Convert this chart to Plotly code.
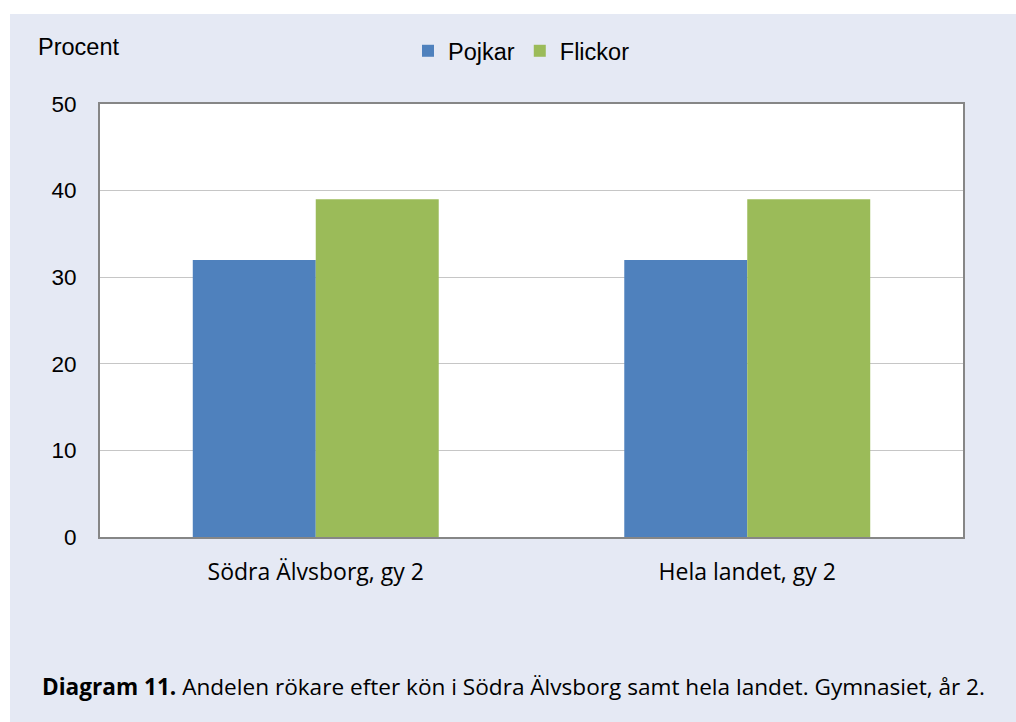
import plotly.graph_objects as go

categories = ["Södra Älvsborg, gy 2", "Hela landet, gy 2"]
pojkar = [32, 32]
flickor = [39, 39]
y_ticks = [0, 10, 20, 30, 40, 50]

W, H = 1016, 722
# plot area in page coordinates: x 100..963, y 104..537
L, R, T, B = 100, W - 963, 104, H - 537
pw, ph = W - L - R, H - T - B

def px(x):
    """page x -> paper x"""
    return (x - L) / pw

def py(y):
    """page y -> paper y"""
    return (H - B - y) / ph

BG = "#e5e9f4"
ARIAL = "Liberation Sans, Arial, sans-serif"
HUMAN = "Open Sans, Noto Sans, sans-serif"

fig = go.Figure()
fig.add_trace(go.Bar(name="Pojkar", x=categories, y=pojkar, marker_color="#4f81bd", marker_line_width=0))
fig.add_trace(go.Bar(name="Flickor", x=categories, y=flickor, marker_color="#9bbb59", marker_line_width=0))

fig.update_layout(
    width=W, height=H,
    margin=dict(l=L, r=R, t=T, b=B),
    paper_bgcolor=BG,
    plot_bgcolor="white",
    barmode="group",
    bargap=0.43,
    bargroupgap=0,
    showlegend=True,
    legend=dict(
        orientation="h",
        x=px(408), xanchor="left",
        y=py(51), yanchor="middle",
        bgcolor="rgba(0,0,0,0)",
        font=dict(family=ARIAL, size=23.5, color="black"),
        itemclick=False, itemdoubleclick=False,
    ),
    xaxis=dict(
        showgrid=False,
        showline=True, mirror=True, linecolor="#868686", linewidth=2,
        tickfont=dict(family=HUMAN, size=23, color="black"),
        ticks="", ticklabelstandoff=13,
    ),
    yaxis=dict(
        range=[0, 50],
        tickvals=y_ticks,
        showgrid=True, gridcolor="#c6c6c6", gridwidth=1.3,
        showline=True, mirror=True, linecolor="#868686", linewidth=2,
        zeroline=False,
        tickfont=dict(family=ARIAL, size=22.5, color="black"),
        ticks="", ticklabelstandoff=17,
    ),
    shapes=[
        dict(type="rect", xref="paper", yref="paper", layer="below",
             x0=px(-5), x1=px(1030), y0=py(14), y1=py(-5),
             fillcolor="white", line_width=0),
        dict(type="rect", xref="paper", yref="paper", layer="below",
             x0=px(-5), x1=px(10), y0=py(740), y1=py(-5),
             fillcolor="white", line_width=0),
    ],
    annotations=[
        dict(text="Procent", xref="paper", yref="paper", x=px(36), y=py(47),
             xanchor="left", yanchor="middle", showarrow=False,
             font=dict(family=ARIAL, size=23.5, color="black")),
        dict(text="<b>Diagram 11.</b> Andelen rökare efter kön i Södra Älvsborg samt hela landet. Gymnasiet, år 2.",
             xref="paper", yref="paper", x=px(513), y=py(686),
             xanchor="center", yanchor="middle", showarrow=False,
             font=dict(family=HUMAN, size=22.6, color="black")),
    ],
)

fig.write_html(
    "out.html",
    config={"displayModeBar": False},
    post_script="document.body.style.margin='0';document.body.style.overflow='hidden';",
)
